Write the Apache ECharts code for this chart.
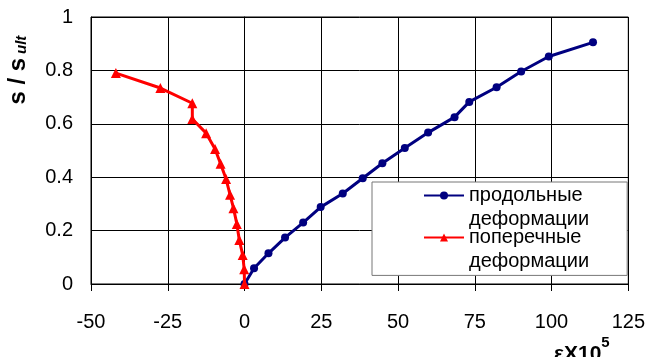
<!DOCTYPE html>
<html>
<head>
<meta charset="utf-8">
<script src="https://cdn.jsdelivr.net/npm/echarts@6/dist/echarts.min.js"></script>
<style>
html, body { margin: 0; padding: 0; background: #fff; }
#chart { width: 648px; height: 357px; }
</style>
</head>
<body>
<div id="chart"></div>
<script>
// ---- data ----
var seriesNames = ['продольные\nдеформации', 'поперечные\nдеформации'];
var longX = [0, 3.1, 7.8, 13.2, 19.1, 24.8, 32.0, 38.5, 44.9, 52.2, 59.8, 68.4, 73.2, 82.1, 90.1, 99.1, 113.5];
var longY = [0, 0.059, 0.115, 0.174, 0.23, 0.288, 0.339, 0.396, 0.452, 0.509, 0.567, 0.625, 0.682, 0.737, 0.796, 0.852, 0.905];
var transX = [0, -0.1, -0.6, -1.7, -2.5, -3.6, -4.7, -6.0, -7.8, -9.6, -12.5, -17.0, -17.0, -27.4, -41.9];
var transY = [0, 0.055, 0.109, 0.165, 0.225, 0.284, 0.334, 0.393, 0.45, 0.506, 0.565, 0.618, 0.677, 0.734, 0.79];
var xTicks = { min: -50, max: 125, interval: 25 };
var yTicks = { min: 0, max: 1, interval: 0.2 };
var yTitleMain = 's / s';
var yTitleSub = 'ult';
var xTitleMain = 'εX10';
var xTitleSup = '5';

function pairs(xs, ys) {
  var out = [];
  for (var i = 0; i < xs.length; i++) out.push([xs[i], ys[i]]);
  return out;
}

var FONT = 'Liberation Sans, Arial, sans-serif';
var chart = echarts.init(document.getElementById('chart'), null, { renderer: 'canvas' });

chart.setOption({
  animation: false,
  backgroundColor: '#ffffff',
  textStyle: { fontFamily: FONT, color: '#000' },
  grid: {
    left: 91, right: 19, top: 17, bottom: 73,
    show: true, borderColor: '#000', borderWidth: 1, backgroundColor: 'transparent'
  },
  xAxis: {
    type: 'value',
    min: xTicks.min, max: xTicks.max, interval: xTicks.interval,
    axisLine: { show: true, onZero: false, lineStyle: { color: '#000', width: 1 } },
    axisTick: { show: true, length: 7, inside: false, lineStyle: { color: '#000' } },
    axisLabel: { fontSize: 20, color: '#000', margin: 28, fontFamily: FONT },
    splitLine: { show: true, lineStyle: { color: '#000', width: 1 } }
  },
  yAxis: [{
    type: 'value',
    min: yTicks.min, max: yTicks.max, interval: yTicks.interval,
    axisLine: { show: true, onZero: false, lineStyle: { color: '#000', width: 1 } },
    axisTick: { show: false },
    axisLabel: { fontSize: 20, color: '#000', margin: 18, fontFamily: FONT },
    splitLine: { show: true, lineStyle: { color: '#000', width: 1 } }
  }, {
    type: 'value',
    position: 'left',
    min: yTicks.min, max: yTicks.max, interval: yTicks.interval,
    axisLine: { show: true, onZero: true, lineStyle: { color: '#000', width: 1 } },
    axisTick: { show: true, length: 7, inside: false, lineStyle: { color: '#000' } },
    axisLabel: { show: false },
    splitLine: { show: false }
  }],
  legend: {
    left: 372, top: 182,
    orient: 'vertical',
    selectedMode: false,
    itemWidth: 40, itemHeight: 10, itemGap: -30,
    padding: [-22.6, 38, 2, 51],
    backgroundColor: '#fff',
    borderColor: '#777', borderWidth: 1,
    formatter: function (name) { return '\n' + name; },
    textStyle: {
      fontSize: 20, lineHeight: 24, color: '#000', fontFamily: FONT,
      backgroundColor: 'rgba(0,0,0,0)'
    },
    data: seriesNames
  },
  series: [{
    name: seriesNames[0],
    type: 'line',
    data: pairs(longX, longY),
    symbol: 'circle', symbolSize: 8,
    color: '#000080',
    lineStyle: { color: '#000080', width: 3 },
    itemStyle: { color: '#000080' },
    z: 3
  }, {
    name: seriesNames[1],
    type: 'line',
    data: pairs(transX, transY),
    symbol: 'triangle', symbolSize: 10,
    color: '#ff0000',
    lineStyle: { color: '#ff0000', width: 3 },
    itemStyle: { color: '#ff0000' },
    z: 4
  }],
  graphic: [{
    type: 'group',
    x: 0, y: 104.5,
    rotation: Math.PI / 2,
    children: [{
      type: 'text',
      x: 0, y: 18.1,
      style: {
        text: yTitleMain,
        font: 'bold 24px ' + FONT,
        fill: '#000',
        align: 'left', verticalAlign: 'middle'
      }
    }, {
      type: 'text',
      x: 50.5, y: 22,
      style: {
        text: yTitleSub,
        font: 'italic bold 15px ' + FONT,
        fill: '#000',
        align: 'left', verticalAlign: 'middle'
      }
    }]
  }, {
    type: 'text',
    x: 554, y: 354.4,
    style: {
      text: '{a|' + xTitleMain + '}{b|' + xTitleSup + '}',
      align: 'left', verticalAlign: 'middle',
      rich: {
        a: { fontSize: 21, lineHeight: 38, fontWeight: 'bold', fontFamily: FONT, fill: '#000' },
        b: { fontSize: 15, lineHeight: 15, fontWeight: 'bold', fontFamily: FONT, fill: '#000', verticalAlign: 'top' }
      }
    }
  }]
});
</script>
</body>
</html>
